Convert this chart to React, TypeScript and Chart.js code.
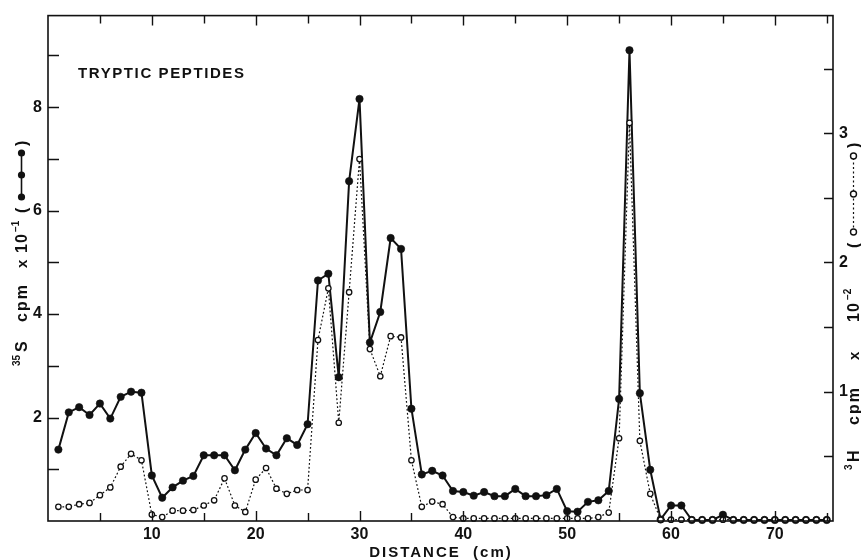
import { useEffect, useRef } from 'react';
import { Chart, registerables } from 'chart.js';

Chart.register(...registerables);

// ---- data ----
const distanceCm = [
  1, 2, 3, 4, 5, 6, 7, 8, 9, 10, 11, 12, 13, 14, 15, 16, 17, 18, 19, 20,
  21, 22, 23, 24, 25, 26, 27, 28, 29, 30, 31, 32, 33, 34, 35, 36, 37, 38, 39, 40,
  41, 42, 43, 44, 45, 46, 47, 48, 49, 50, 51, 52, 53, 54, 55, 56, 57, 58, 59, 60,
  61, 62, 63, 64, 65, 66, 67, 68, 69, 70, 71, 72, 73, 74, 75,
];

// 35S cpm x 10^-1 (filled circles, left axis)
const sulfur35 = [
  1.38, 2.1, 2.2, 2.05, 2.27, 1.98, 2.4, 2.5, 2.48, 0.88,
  0.45, 0.65, 0.78, 0.87, 1.27, 1.27, 1.27, 0.98, 1.38, 1.7,
  1.4, 1.27, 1.6, 1.47, 1.87, 4.65, 4.78, 2.78, 6.57, 8.16,
  3.45, 4.04, 5.47, 5.26, 2.17, 0.9, 0.97, 0.88, 0.58, 0.56,
  0.49, 0.56, 0.48, 0.48, 0.62, 0.48, 0.48, 0.5, 0.62, 0.19,
  0.18, 0.37, 0.4, 0.58, 2.36, 9.1, 2.47, 0.99, 0.03, 0.3,
  0.3, 0.02, 0.02, 0.02, 0.12, 0.02, 0.02, 0.02, 0.02, 0.02,
  0.02, 0.02, 0.02, 0.02, 0.02,
];

// 3H cpm x 10^-2 (open circles, right axis)
const tritium3H = [
  0.11, 0.11, 0.13, 0.14, 0.2, 0.26, 0.42, 0.52, 0.47, 0.05,
  0.03, 0.08, 0.08, 0.085, 0.12, 0.16, 0.33, 0.12, 0.07, 0.32,
  0.41, 0.25, 0.21, 0.24, 0.24, 1.4, 1.8, 0.76, 1.77, 2.8,
  1.33, 1.12, 1.43, 1.42, 0.47, 0.11, 0.15, 0.13, 0.03, 0.02,
  0.02, 0.02, 0.02, 0.02, 0.02, 0.02, 0.02, 0.02, 0.02, 0.02,
  0.02, 0.02, 0.03, 0.065, 0.64, 3.08, 0.62, 0.21, 0.01, 0.01,
  0.01, 0.01, 0.01, 0.01, 0.01, 0.01, 0.01, 0.01, 0.01, 0.01,
  0.01, 0.01, 0.01, 0.01, 0.01,
];

const xTickMarks = [5, 10, 15, 20, 25, 30, 35, 40, 45, 50, 55, 60, 65, 70, 75];
const xTickLabels = [10, 20, 30, 40, 50, 60, 70];
const leftTickMarks = [1, 2, 3, 4, 5, 6, 7, 8, 9];
const leftTickLabels = [2, 4, 6, 8];
const rightTickMarks = [0.5, 1, 1.5, 2, 2.5, 3, 3.5];
const rightTickLabels = [1, 2, 3];

const chartTitle = 'TRYPTIC PEPTIDES';
const xAxisTitle = 'DISTANCE  (cm)';

const INK = '#111';
const FAMILY = '"Liberation Sans", Arial, sans-serif';

type Piece = { t: string; u: number; size: number; raise?: number; spacing?: number };

function drawPieces(ctx: CanvasRenderingContext2D, pieces: Piece[]) {
  for (const p of pieces) {
    ctx.font = `bold ${p.size}px ${FAMILY}`;
    (ctx as any).letterSpacing = `${p.spacing ?? 0}px`;
    ctx.fillText(p.t, p.u, -(p.raise ?? 0));
  }
  (ctx as any).letterSpacing = '0px';
}

const framePlugin = {
  id: 'frameAndTicks',
  afterDatasetsDraw(chart: any) {
    const ctx: CanvasRenderingContext2D = chart.ctx;
    const a = chart.chartArea;
    const xs = chart.scales.x;
    const ys = chart.scales.y;
    const y2 = chart.scales.y2;
    ctx.save();
    ctx.strokeStyle = INK;
    ctx.fillStyle = INK;
    ctx.lineWidth = 1.6;
    ctx.strokeRect(a.left, a.top, a.right - a.left, a.bottom - a.top);
    ctx.lineWidth = 1.4;
    ctx.beginPath();
    for (const v of xTickMarks) {
      const px = Math.round(xs.getPixelForValue(v)) + 0.5;
      const len = v % 10 === 0 ? 10 : 8;
      ctx.moveTo(px, a.bottom);
      ctx.lineTo(px, a.bottom - len);
      ctx.moveTo(px, a.top);
      ctx.lineTo(px, a.top + len);
    }
    for (const v of leftTickMarks) {
      const py = Math.round(ys.getPixelForValue(v)) + 0.5;
      ctx.moveTo(a.left, py);
      ctx.lineTo(a.left + 11, py);
    }
    for (const v of rightTickMarks) {
      const py = Math.round(y2.getPixelForValue(v)) + 0.5;
      ctx.moveTo(a.right, py);
      ctx.lineTo(a.right - 9, py);
    }
    ctx.stroke();

    // chart title
    ctx.textAlign = 'left';
    ctx.textBaseline = 'alphabetic';
    ctx.font = `bold 15px ${FAMILY}`;
    (ctx as any).letterSpacing = '1.6px';
    ctx.fillText(chartTitle, 78, 78);

    // x axis title
    ctx.font = `bold 15px ${FAMILY}`;
    (ctx as any).letterSpacing = '2px';
    ctx.textAlign = 'center';
    ctx.fillText(xAxisTitle, 441, 557);
    (ctx as any).letterSpacing = '0px';
    ctx.textAlign = 'left';

    // left axis title (rotated, reads bottom to top)
    ctx.save();
    ctx.translate(27, 367);
    ctx.rotate(-Math.PI / 2);
    drawPieces(ctx, [
      { t: '35', u: 1, size: 10, raise: 7 },
      { t: 'S', u: 15, size: 16 },
      { t: 'cpm', u: 45, size: 16, spacing: 2 },
      { t: 'x', u: 99, size: 15 },
      { t: '10', u: 114, size: 16, spacing: 1 },
      { t: '−1', u: 135, size: 10, raise: 8 },
      { t: '(', u: 154, size: 16 },
      { t: ')', u: 221, size: 16 },
    ]);
    ctx.lineWidth = 1.6;
    ctx.beginPath();
    ctx.moveTo(170, -5.5);
    ctx.lineTo(214, -5.5);
    ctx.stroke();
    for (const u of [170, 192, 214]) {
      ctx.beginPath();
      ctx.arc(u, -5.5, 3.6, 0, Math.PI * 2);
      ctx.fill();
    }
    ctx.restore();

    // right axis title (rotated, reads bottom to top, clipped by the edge)
    ctx.save();
    ctx.translate(859, 470);
    ctx.rotate(-Math.PI / 2);
    drawPieces(ctx, [
      { t: '3', u: 0, size: 10, raise: 7 },
      { t: 'H', u: 8, size: 16 },
      { t: 'cpm', u: 45, size: 16, spacing: 2 },
      { t: 'x', u: 110, size: 15 },
      { t: '10', u: 148, size: 16, spacing: 1 },
      { t: '−2', u: 170, size: 10, raise: 8 },
      { t: '(', u: 222, size: 16 },
      { t: ')', u: 322, size: 16 },
    ]);
    ctx.lineWidth = 1.2;
    ctx.setLineDash([2, 2.5]);
    ctx.beginPath();
    ctx.moveTo(238, -5.5);
    ctx.lineTo(314, -5.5);
    ctx.stroke();
    ctx.setLineDash([]);
    ctx.lineWidth = 1.4;
    for (const u of [238, 276, 314]) {
      ctx.beginPath();
      ctx.arc(u, -5.5, 3, 0, Math.PI * 2);
      ctx.fillStyle = '#fff';
      ctx.fill();
      ctx.stroke();
    }
    ctx.fillStyle = INK;
    ctx.restore();

    ctx.restore();
  },
};

export default function App() {
  const canvasRef = useRef<HTMLCanvasElement | null>(null);

  useEffect(() => {
    const canvas = canvasRef.current;
    if (!canvas) return;
    const tickFont = { family: FAMILY, size: 16, weight: 'bold' as const };
    const chart = new Chart(canvas, {
      type: 'line',
      data: {
        datasets: [
          {
            label: '35S',
            data: distanceCm.map((x, i) => ({ x, y: sulfur35[i] })),
            yAxisID: 'y',
            borderColor: INK,
            borderWidth: 2,
            pointRadius: 3.7,
            pointBackgroundColor: INK,
            pointBorderColor: INK,
            pointBorderWidth: 0.6,
            tension: 0,
            order: 1,
            clip: false as any,
          },
          {
            label: '3H',
            data: distanceCm.map((x, i) => ({ x, y: tritium3H[i] })),
            yAxisID: 'y2',
            borderColor: INK,
            borderWidth: 1.2,
            borderDash: [1.8, 2.2],
            pointRadius: 2.7,
            pointBackgroundColor: '#fff',
            pointBorderColor: INK,
            pointBorderWidth: 1.3,
            tension: 0,
            order: 0,
            clip: false as any,
          },
        ],
      },
      options: {
        responsive: false,
        animation: false,
        events: [],
        layout: { padding: { top: 13, left: 0, right: 0, bottom: 0 } },
        plugins: {
          legend: { display: false },
          tooltip: { enabled: false },
          title: { display: false },
        },
        scales: {
          x: {
            type: 'linear',
            position: 'bottom',
            min: 0,
            max: 75.6,
            grid: { display: false, drawTicks: false },
            border: { display: false },
            ticks: {
              font: tickFont,
              color: INK,
              padding: 4,
              autoSkip: false,
              maxRotation: 0,
              callback: (v: any) => String(v),
            },
            afterBuildTicks: (s: any) => {
              s.ticks = xTickLabels.map((v) => ({ value: v }));
            },
            afterFit: (s: any) => {
              s.height = 39;
            },
          },
          y: {
            type: 'linear',
            position: 'left',
            min: 0,
            max: 9.77,
            grid: { display: false, drawTicks: false },
            border: { display: false },
            ticks: {
              font: tickFont,
              color: INK,
              padding: 6,
              autoSkip: false,
              callback: (v: any) => String(v),
            },
            afterBuildTicks: (s: any) => {
              s.ticks = leftTickLabels.map((v) => ({ value: v }));
            },
            afterFit: (s: any) => {
              s.width = 48;
            },
          },
          y2: {
            type: 'linear',
            position: 'right',
            min: 0,
            max: 3.91,
            grid: { display: false, drawTicks: false },
            border: { display: false },
            ticks: {
              font: tickFont,
              color: INK,
              padding: 6,
              autoSkip: false,
              callback: (v: any) => String(v),
            },
            afterBuildTicks: (s: any) => {
              s.ticks = rightTickLabels.map((v) => ({ value: v }));
            },
            afterFit: (s: any) => {
              s.width = 28;
            },
          },
        },
      },
      plugins: [framePlugin],
    });
    return () => chart.destroy();
  }, []);

  return (
    <div style={{ position: 'absolute', left: 0, top: 0, width: 861, height: 560, background: '#fff' }}>
      <canvas ref={canvasRef} width={861} height={560} style={{ display: 'block' }} />
    </div>
  );
}
